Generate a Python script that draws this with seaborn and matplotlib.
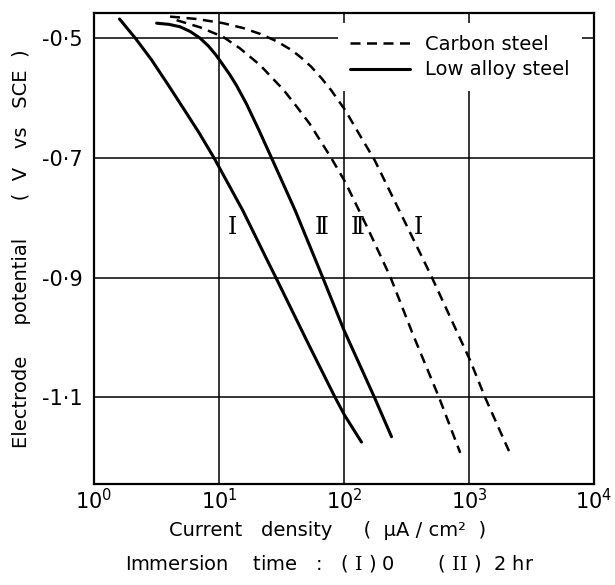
import matplotlib
matplotlib.use("Agg")
import matplotlib.pyplot as plt
from matplotlib.ticker import NullLocator
import seaborn as sns

# Cathodic polarization curves: current density (uA/cm2) vs electrode potential (V vs SCE)
carbon_I_current = [4.06, 6.61, 10.8, 15.5, 21.4, 28.8, 38.1, 45.7, 54.8, 66.1, 78.9,
                    102, 132, 176, 490, 1019, 1343, 2089]
carbon_I_potential = [-0.464, -0.468, -0.475, -0.483, -0.493, -0.505, -0.520, -0.533,
                      -0.548, -0.567, -0.587, -0.620, -0.660, -0.704, -0.894, -1.038,
                      -1.100, -1.190]

carbon_II_current = [4.58, 7.08, 10.8, 14.7, 21.3, 33.0, 41.7, 53.1, 78.9, 102, 155,
                     236, 359, 575, 851]
carbon_II_potential = [-0.470, -0.482, -0.498, -0.517, -0.545, -0.587, -0.614, -0.643,
                       -0.700, -0.740, -0.818, -0.900, -0.997, -1.100, -1.193]

low_alloy_I_current = [1.60, 2.14, 2.88, 3.89, 5.25, 6.92, 9.12, 15.5, 24.3, 28.5, 51.9,
                       84.7, 101, 138]
low_alloy_I_potential = [-0.468, -0.500, -0.536, -0.577, -0.619, -0.658, -0.700, -0.788,
                         -0.871, -0.900, -1.011, -1.100, -1.130, -1.175]

low_alloy_II_current = [3.17, 3.98, 4.88, 5.89, 7.05, 8.22, 9.44, 10.7, 12.2, 13.8, 16.6,
                        20.9, 26.3, 40.7, 67.6, 100, 175, 240]
low_alloy_II_potential = [-0.475, -0.477, -0.481, -0.489, -0.500, -0.513, -0.528, -0.544,
                          -0.561, -0.579, -0.610, -0.654, -0.700, -0.788, -0.900, -0.988,
                          -1.100, -1.166]

x_ticks = [1, 10, 100, 1000, 10000]
x_tick_labels = [r"$10^{0}$", r"$10^{1}$", r"$10^{2}$", r"$10^{3}$", r"$10^{4}$"]
y_ticks = [-1.1, -0.9, -0.7, -0.5]
y_tick_labels = ["-1·1", "-0·9", "-0·7", "-0·5"]

sns.set_theme(style="whitegrid")
plt.rcParams["font.family"] = ["DejaVu Sans"]

fig = plt.figure(figsize=(6.15, 5.85), dpi=100)
ax = fig.add_axes([94 / 615, 1 - 484 / 585, 500 / 615, 471 / 585])
ax.set_xscale("log")

dashed = (0, (4, 2.6))
sns.lineplot(x=carbon_I_current, y=carbon_I_potential, ax=ax, color="black",
             lw=1.8, linestyle=dashed, sort=False, label="Carbon steel")
sns.lineplot(x=carbon_II_current, y=carbon_II_potential, ax=ax, color="black",
             lw=1.8, linestyle=dashed, sort=False)
sns.lineplot(x=low_alloy_I_current, y=low_alloy_I_potential, ax=ax, color="black",
             lw=2.2, linestyle="-", sort=False, label="Low alloy steel")
sns.lineplot(x=low_alloy_II_current, y=low_alloy_II_potential, ax=ax, color="black",
             lw=2.2, linestyle="-", sort=False)

# curve tags: (I) immersion 0, (II) immersion 2 hr
roman = ["DejaVu Serif", "DejaVu Sans"]
for xpos, tag in [(12.9, "Ⅰ"), (66.7, "Ⅱ"), (129, "Ⅱ"), (392, "Ⅰ")]:
    ax.text(xpos, -0.817, tag, family=roman, fontsize=17, ha="center", va="center",
            color="black")

ax.set_xlim(1, 10000)
ax.set_ylim(-1.245, -0.458)
ax.set_xticks(x_ticks)
ax.set_xticklabels(x_tick_labels)
ax.xaxis.set_minor_locator(NullLocator())
ax.set_yticks(y_ticks)
ax.set_yticklabels(y_tick_labels)
ax.tick_params(axis="both", length=0, labelsize=15, colors="black")
ax.tick_params(axis="x", pad=3)
ax.tick_params(axis="y", pad=8)

ax.grid(True, color="black", lw=1.1)
for side in ax.spines.values():
    side.set_color("black")
    side.set_linewidth(1.6)

ax.set_xlabel("")
ax.set_ylabel("Electrode     potential      (  V   vs   SCE  )", fontsize=14,
              color="black", labelpad=8)

leg = ax.legend(loc="upper right", bbox_to_anchor=(0.975, 0.979), frameon=True,
                facecolor="white", edgecolor="none", framealpha=1, fancybox=False,
                fontsize=14, labelcolor="black", handlelength=3.1,
                handletextpad=0.77, borderpad=0.6, labelspacing=0.35,
                borderaxespad=0)

fig.text(328 / 615, 1 - 530 / 585, "Current   density     (  μA / cm²  )", fontsize=14,
         ha="center", va="center", color="black")
fig.text(330 / 615, 1 - 563 / 585,
         r"Immersion    time   :   ( $\mathrm{I}$ ) 0       ( $\mathrm{II}$ )  2 hr",
         fontsize=14, ha="center", va="center", color="black",
         math_fontfamily="dejavuserif")

fig.savefig("out.png", dpi=100, facecolor="white")
